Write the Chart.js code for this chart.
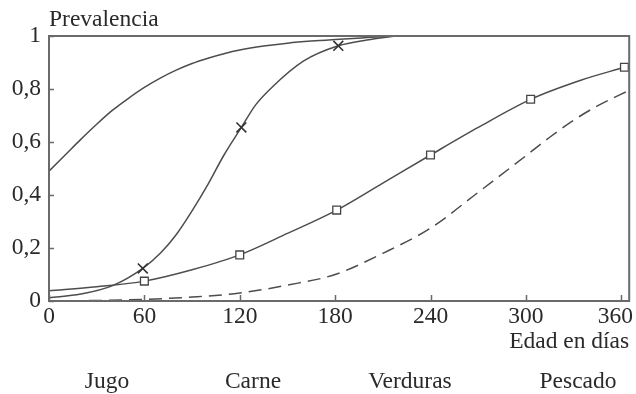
<!DOCTYPE html>
<html>
<head>
<meta charset="utf-8">
<script src="https://cdn.jsdelivr.net/npm/chart.js@4/dist/chart.umd.min.js"></script>
<style>
  html, body { margin: 0; padding: 0; background: #fff; }
  #wrap { width: 636px; height: 394px; }
</style>
</head>
<body>
<div id="wrap"><canvas id="c" width="636" height="394"></canvas></div>
<script>
// Prevalencia acumulada según la edad (días) para cada alimento
const nombres = ['Jugo', 'Carne', 'Verduras', 'Pescado'];

const diasJugo = [0, 10, 20, 30, 40, 50, 60, 70, 80, 90, 100, 110, 120, 135, 150, 165, 180, 200, 218];
const jugo     = [0.49, 0.55, 0.61, 0.667, 0.72, 0.765, 0.806, 0.841, 0.871, 0.896, 0.916, 0.933, 0.947, 0.962, 0.973, 0.981, 0.987, 0.994, 1.0];

const diasCarne = [0, 20, 40, 59, 70, 80, 90, 100, 110, 121, 130, 140, 160, 182, 200, 218];
const carne     = [0.012, 0.026, 0.058, 0.123, 0.18, 0.25, 0.34, 0.44, 0.55, 0.655, 0.74, 0.805, 0.905, 0.963, 0.985, 1.0];
const marcasCarne = [59, 121, 182];

const diasVerduras = [0, 30, 60, 90, 120, 150, 181, 210, 240, 270, 303, 335, 362];
const verduras     = [0.039, 0.054, 0.075, 0.118, 0.174, 0.255, 0.343, 0.445, 0.551, 0.655, 0.761, 0.834, 0.882];
const marcasVerduras = [60, 120, 181, 240, 303, 362];

const diasPescado = [0, 30, 60, 90, 120, 150, 180, 210, 240, 270, 300, 315, 330, 345, 365];
const pescado     = [0, 0.002, 0.006, 0.015, 0.03, 0.06, 0.10, 0.18, 0.275, 0.41, 0.548, 0.618, 0.682, 0.736, 0.795];

const ticksX = [0, 60, 120, 180, 240, 300, 360];
const ticksY = [0, 0.2, 0.4, 0.6, 0.8, 1];

const LINEA = '#4d4d4d';
const EJE = '#6a6a6a';
const TEXTO = '#2a2a2a';
const FUENTE = "'Liberation Serif', 'Times New Roman', serif";
const TAM = 23.5;

// centros horizontales de los nombres bajo el eje (fracción del ancho)
const centrosNombres = [107 / 636, 253 / 636, 410 / 636, 578 / 636];

const pares = (xs, ys) => xs.map((x, i) => ({ x, y: ys[i] }));
const radioSi = (marcas, r) => (ctx) => (ctx.raw && marcas.includes(ctx.raw.x)) ? r : 0;

const base = {
  borderColor: LINEA,
  borderWidth: 1.5,
  fill: false,
  cubicInterpolationMode: 'monotone',
  pointRadius: 0,
  pointHoverRadius: 0
};

const decorado = {
  id: 'decorado',
  beforeDraw(chart) {
    // la última etiqueta del eje x se ajusta al borde del lienzo
    const x = chart.scales.x;
    const items = x.getLabelItems();
    const ultimo = items[items.length - 1];
    if (ultimo) {
      const ctx = chart.ctx;
      ctx.save();
      ctx.font = TAM + 'px ' + FUENTE;
      const w = ctx.measureText(ultimo.label).width;
      ctx.restore();
      const derecha = Math.min(ultimo.options.translation[0] + w / 2, chart.width - 3);
      ultimo.options.translation[0] = derecha - w / 2;
    }
  },
  afterDatasetsDraw(chart) {
    const { ctx, chartArea: a, scales: { x, y } } = chart;
    ctx.save();
    ctx.strokeStyle = EJE;
    ctx.lineWidth = 2;
    ctx.strokeRect(a.left, a.top, a.right - a.left, a.bottom - a.top);
    ctx.lineWidth = 1.5;
    ctx.beginPath();
    x.ticks.forEach(t => {
      const px = Math.round(x.getPixelForValue(t.value)) + 0.5;
      ctx.moveTo(px, a.bottom);
      ctx.lineTo(px, a.bottom - 6);
    });
    y.ticks.forEach(t => {
      const py = Math.round(y.getPixelForValue(t.value)) + 0.5;
      ctx.moveTo(a.left, py);
      ctx.lineTo(a.left + 5, py);
    });
    ctx.stroke();

    ctx.fillStyle = TEXTO;
    ctx.font = TAM + 'px ' + FUENTE;
    ctx.textAlign = 'center';
    ctx.textBaseline = 'alphabetic';
    chart.data.datasets.forEach((ds, i) => {
      ctx.fillText(ds.label, chart.width * centrosNombres[i], 388);
    });
    ctx.restore();
  }
};

new Chart(document.getElementById('c'), {
  type: 'line',
  data: {
    datasets: [
      { ...base, label: nombres[0], data: pares(diasJugo, jugo) },
      {
        ...base, label: nombres[1], data: pares(diasCarne, carne),
        pointStyle: 'crossRot', pointRadius: radioSi(marcasCarne, 7),
        pointBorderColor: '#333', pointBorderWidth: 1.6
      },
      {
        ...base, label: nombres[2], data: pares(diasVerduras, verduras),
        pointStyle: 'rect', pointRadius: radioSi(marcasVerduras, 5.5),
        pointBackgroundColor: '#fff', pointBorderColor: '#444', pointBorderWidth: 1.3
      },
      { ...base, label: nombres[3], data: pares(diasPescado, pescado), borderDash: [13, 7] }
    ]
  },
  options: {
    responsive: false,
    animation: false,
    events: [],
    devicePixelRatio: 1,
    layout: { padding: { left: 0, right: 5, top: 0, bottom: 33 } },
    plugins: {
      legend: { display: false },
      tooltip: { enabled: false },
      title: {
        display: true,
        text: 'Prevalencia',
        align: 'start',
        fullSize: false,
        color: TEXTO,
        font: { family: FUENTE, size: TAM, weight: 'normal', lineHeight: 1.2 },
        padding: { top: 6, bottom: 1.8 }
      }
    },
    scales: {
      x: {
        type: 'linear',
        min: 0,
        max: 365,
        grid: { display: false, drawTicks: false },
        border: { display: false },
        afterBuildTicks: (s) => { s.ticks = ticksX.map(v => ({ value: v })); },
        afterFit: (s) => { s.height = 60; s.paddingLeft = 0; s.paddingRight = 0; },
        ticks: {
          color: TEXTO,
          padding: 1.5,
          maxRotation: 0,
          autoSkip: false,
          font: { family: FUENTE, size: TAM }
        },
        title: {
          display: true,
          text: 'Edad en días',
          align: 'end',
          color: TEXTO,
          font: { family: FUENTE, size: TAM, lineHeight: 1.2 },
          padding: { top: 0, bottom: 5 }
        }
      },
      y: {
        min: 0,
        max: 1,
        grid: { display: false, drawTicks: false },
        border: { display: false },
        afterBuildTicks: (s) => { s.ticks = ticksY.map(v => ({ value: v })); },
        afterFit: (s) => { s.width = 49; },
        ticks: {
          color: TEXTO,
          padding: 8,
          font: { family: FUENTE, size: TAM },
          callback: (v) => String(Math.round(v * 10) / 10).replace('.', ',')
        }
      }
    }
  },
  plugins: [decorado]
});
</script>
</body>
</html>
